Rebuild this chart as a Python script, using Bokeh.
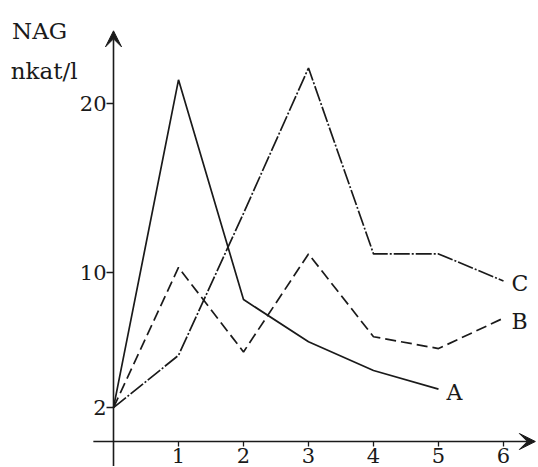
from bokeh.plotting import figure
from bokeh.models import LinearAxis, Range1d, FixedTicker, Arrow, VeeHead, ColumnDataSource
from bokeh.core.properties import value
from bokeh.embed import file_html
from bokeh.resources import INLINE

# data
x_a = [0, 1, 2, 3, 4, 5]
a_vals = [2, 21.4, 8.4, 5.9, 4.2, 3.1]
x_bc = [0, 1, 2, 3, 4, 5, 6]
b_vals = [2, 10.3, 5.3, 11.1, 6.2, 5.5, 7.3]
c_vals = [2, 5.1, 13.5, 22.1, 11.1, 11.1, 9.5]
series_names = ["A", "B", "C"]
x_ticks = [1, 2, 3, 4, 5, 6]
y_ticks = [2, 10, 20]
y_title = ["NAG", "nkat/l"]

FONT = "DejaVu Serif"
INK = "#1a1a1a"

W, H = 536, 466
PX_X, PX_Y = 65.0, 16.9
X0 = -113 / PX_X
Y1 = 441 / PX_Y
p = figure(width=W, height=H, output_backend="svg", toolbar_location=None,
           x_axis_type=None, y_axis_type=None,
           x_range=Range1d(X0, X0 + W / PX_X),
           y_range=Range1d(Y1 - H / PX_Y, Y1),
           min_border=0, min_border_left=0, min_border_right=0,
           min_border_top=0, min_border_bottom=0)
p.outline_line_color = None
p.grid.visible = False
p.background_fill_color = "white"

xax = LinearAxis(fixed_location=0, ticker=FixedTicker(ticks=x_ticks))
xax.axis_line_color = None
xax.major_tick_in = 0
xax.major_tick_out = 5
xax.major_tick_line_color = INK
xax.major_tick_line_width = 1.3
xax.minor_tick_line_color = None
xax.major_label_text_font = FONT
xax.major_label_text_font_size = "21px"
xax.major_label_text_color = INK
xax.major_label_standoff = 1
p.add_layout(xax, "below")

yax = LinearAxis(fixed_location=0, ticker=FixedTicker(ticks=y_ticks))
yax.axis_line_color = None
yax.major_tick_in = 0
yax.major_tick_out = 7
yax.major_tick_line_color = INK
yax.major_tick_line_width = 1.3
yax.minor_tick_line_color = None
yax.major_label_text_font = FONT
yax.major_label_text_font_size = "21px"
yax.major_label_text_color = INK
yax.major_label_standoff = 0
p.add_layout(yax, "left")

# axis lines with arrow heads
p.add_layout(Arrow(end=VeeHead(size=16, fill_color=INK, line_color=INK, line_width=1),
                   x_start=-0.31, y_start=0, x_end=6.49, y_end=0,
                   line_color=INK, line_width=1.6))
p.add_layout(Arrow(end=VeeHead(size=16, fill_color=INK, line_color=INK, line_width=1),
                   x_start=0, y_start=Y1 - H / PX_Y, x_end=0, y_end=24.3,
                   line_color=INK, line_width=1.6))

# series
p.line(x_a, a_vals, line_color=INK, line_width=1.7)
p.line(x_bc, b_vals, line_color=INK, line_width=1.7, line_dash="11 5")
p.line(x_bc, c_vals, line_color=INK, line_width=1.7, line_dash="16 2 2 2")

# series labels next to each last point
lab = ColumnDataSource(dict(x=[x_a[-1], x_bc[-1], x_bc[-1]],
                            y=[a_vals[-1], b_vals[-1], c_vals[-1]],
                            t=series_names))
p.text(x="x", y="y", text="t", source=lab, x_offset=8, y_offset=3,
       text_font=value(FONT), text_font_size="22px", text_color=INK,
       text_align="left", text_baseline="middle")

# y title
p.text(x=[-1.56, -1.58], y=[24.3, 21.9], text=y_title,
       text_font=value(FONT), text_font_size="23px", text_color=INK,
       text_align="left", text_baseline="middle")

open("out.html", "w").write(file_html(p, INLINE))
